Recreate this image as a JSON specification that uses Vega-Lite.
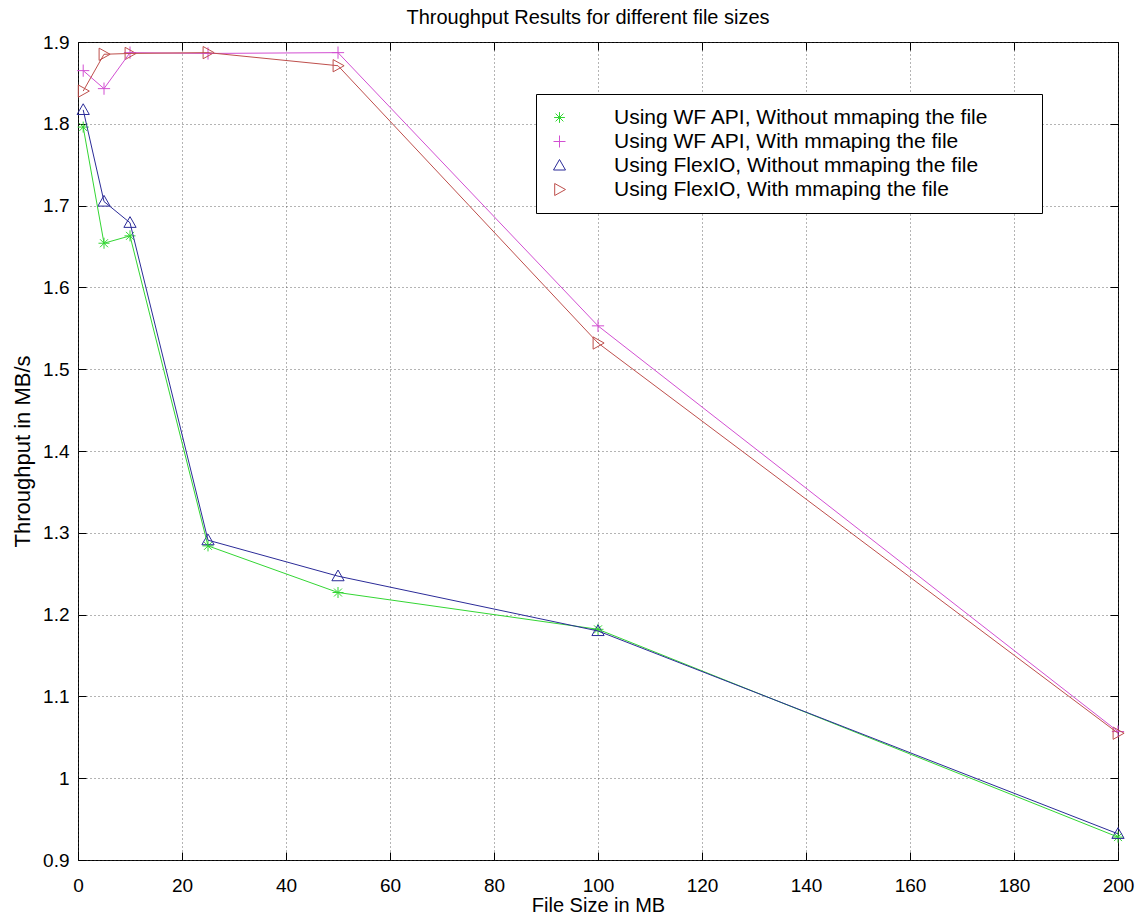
{
  "$schema": "https://vega.github.io/schema/vega-lite/v6.json",
  "width": 1040,
  "height": 818,
  "autosize": {"type": "none"},
  "padding": {"left": 78, "top": 42, "right": 20, "bottom": 61},
  "background": "white",
  "title": {
    "text": "Throughput Results for different file sizes",
    "fontSize": 20,
    "fontWeight": "normal",
    "font": "Liberation Sans",
    "color": "black",
    "anchor": "middle",
    "dx": -10,
    "offset": 5
  },
  "data": {
    "values": [
      {"size": 1, "throughput": 1.796, "series": "Using WF API, Without mmaping the file"},
      {"size": 5, "throughput": 1.654, "series": "Using WF API, Without mmaping the file"},
      {"size": 10, "throughput": 1.663, "series": "Using WF API, Without mmaping the file"},
      {"size": 25, "throughput": 1.284, "series": "Using WF API, Without mmaping the file"},
      {"size": 50, "throughput": 1.227, "series": "Using WF API, Without mmaping the file"},
      {"size": 100, "throughput": 1.182, "series": "Using WF API, Without mmaping the file"},
      {"size": 200, "throughput": 0.928, "series": "Using WF API, Without mmaping the file"},

      {"size": 1, "throughput": 1.865, "series": "Using WF API, With mmaping the file"},
      {"size": 5, "throughput": 1.843, "series": "Using WF API, With mmaping the file"},
      {"size": 10, "throughput": 1.887, "series": "Using WF API, With mmaping the file"},
      {"size": 25, "throughput": 1.886, "series": "Using WF API, With mmaping the file"},
      {"size": 50, "throughput": 1.887, "series": "Using WF API, With mmaping the file"},
      {"size": 100, "throughput": 1.553, "series": "Using WF API, With mmaping the file"},
      {"size": 200, "throughput": 1.057, "series": "Using WF API, With mmaping the file"},

      {"size": 1, "throughput": 1.817, "series": "Using FlexIO, Without mmaping the file"},
      {"size": 5, "throughput": 1.705, "series": "Using FlexIO, Without mmaping the file"},
      {"size": 10, "throughput": 1.679, "series": "Using FlexIO, Without mmaping the file"},
      {"size": 25, "throughput": 1.291, "series": "Using FlexIO, Without mmaping the file"},
      {"size": 50, "throughput": 1.247, "series": "Using FlexIO, Without mmaping the file"},
      {"size": 100, "throughput": 1.180, "series": "Using FlexIO, Without mmaping the file"},
      {"size": 200, "throughput": 0.932, "series": "Using FlexIO, Without mmaping the file"},

      {"size": 1, "throughput": 1.840, "series": "Using FlexIO, With mmaping the file"},
      {"size": 5, "throughput": 1.885, "series": "Using FlexIO, With mmaping the file"},
      {"size": 10, "throughput": 1.886, "series": "Using FlexIO, With mmaping the file"},
      {"size": 25, "throughput": 1.887, "series": "Using FlexIO, With mmaping the file"},
      {"size": 50, "throughput": 1.871, "series": "Using FlexIO, With mmaping the file"},
      {"size": 100, "throughput": 1.532, "series": "Using FlexIO, With mmaping the file"},
      {"size": 200, "throughput": 1.055, "series": "Using FlexIO, With mmaping the file"}
    ]
  },
  "layer": [
    {
      "mark": {"type": "point", "filled": false, "strokeWidth": 1, "opacity": 1, "size": 150},
      "encoding": {
        "x": {
          "field": "size",
          "type": "quantitative",
          "scale": {"domain": [0, 200], "nice": false, "zero": false},
          "axis": {
            "orient": "bottom",
            "title": "File Size in MB",
            "values": [0, 20, 40, 60, 80, 100, 120, 140, 160, 180, 200],
            "grid": true,
            "domain": false,
            "labelFlush": false,
            "tickSize": -8,
            "labelPadding": 24,
            "titlePadding": 0
          }
        },
        "y": {
          "field": "throughput",
          "type": "quantitative",
          "scale": {"domain": [0.9, 1.9], "nice": false, "zero": false},
          "axis": {
            "orient": "left",
            "title": "Throughput in MB/s",
            "titleFontSize": 22,
            "values": [0.9, 1.0, 1.1, 1.2, 1.3, 1.4, 1.5, 1.6, 1.7, 1.8, 1.9],
            "format": "~g",
            "grid": true,
            "domain": false,
            "labelFlush": false,
            "tickSize": -8,
            "labelPadding": 17,
            "titlePadding": 8
          }
        },
        "color": {
          "field": "series",
          "type": "nominal",
          "sort": null,
          "scale": {
            "domain": [
              "Using WF API, Without mmaping the file",
              "Using WF API, With mmaping the file",
              "Using FlexIO, Without mmaping the file",
              "Using FlexIO, With mmaping the file"
            ],
            "range": ["#33d633", "#d24fd2", "#2b2b98", "#be4f4c"]
          },
          "legend": {
            "title": "\u00a0",
            "titleOrient": "right",
            "titlePadding": 40,
            "titleFontSize": 8,
            "encode": {
              "symbols": {
                "shape": {
                  "value": {
                    "expr": "datum.value === 'Using WF API, Without mmaping the file' ? 'M-1,0L7,0M2.1,0L3.9,0M3,-0.9L3,0.9M2.35,-0.65L3.65,0.65M2.35,0.65L3.65,-0.65' : datum.value === 'Using WF API, With mmaping the file' ? 'M-1,0L7,0M3,-1L3,1' : datum.value === 'Using FlexIO, Without mmaping the file' ? 'M-1,0L7,0M3,-1L4,0.75L2,0.75Z' : 'M-1,0L7,0M2.2,-1L4,0L2.2,1Z'"
                  }
                }
              }
            }
          }
        },
        "shape": {
          "field": "series",
          "type": "nominal",
          "sort": null,
          "scale": {
            "domain": [
              "Using WF API, Without mmaping the file",
              "Using WF API, With mmaping the file",
              "Using FlexIO, Without mmaping the file",
              "Using FlexIO, With mmaping the file"
            ],
            "range": [
              "M-0.9,0L0.9,0M0,-0.9L0,0.9M-0.65,-0.65L0.65,0.65M-0.65,0.65L0.65,-0.65",
              "M-1,0L1,0M0,-1L0,1",
              "M0,-1L1,0.75L-1,0.75Z",
              "M-0.8,-1L1,0L-0.8,1Z"
            ]
          },
          "legend": {
            "title": "\u00a0",
            "titleOrient": "right",
            "titlePadding": 40,
            "titleFontSize": 8
          }
        }
      }
    },
    {
      "mark": {"type": "line", "strokeWidth": 1},
      "encoding": {
        "x": {
          "field": "size",
          "type": "quantitative",
          "axis": {
            "orient": "top",
            "title": null,
            "labels": false,
            "values": [0, 20, 40, 60, 80, 100, 120, 140, 160, 180, 200],
            "grid": false,
            "domain": false,
            "tickSize": -8
          }
        },
        "y": {
          "field": "throughput",
          "type": "quantitative",
          "axis": {
            "orient": "right",
            "title": null,
            "labels": false,
            "values": [0.9, 1.0, 1.1, 1.2, 1.3, 1.4, 1.5, 1.6, 1.7, 1.8, 1.9],
            "grid": false,
            "domain": false,
            "tickSize": -8
          }
        },
        "color": {
          "field": "series",
          "type": "nominal",
          "sort": null
        }
      }
    }
  ],
  "resolve": {"axis": {"x": "independent", "y": "independent"}},
  "config": {
    "font": "Liberation Sans",
    "view": {"stroke": "black", "strokeWidth": 1},
    "axis": {
      "labelFont": "Liberation Sans",
      "labelFontSize": 19,
      "labelColor": "black",
      "titleFont": "Liberation Sans",
      "titleFontSize": 20,
      "titleFontWeight": "normal",
      "titleColor": "black",
      "tickColor": "black",
      "tickWidth": 1,
      "gridColor": "#444444",
      "gridOpacity": 0.8,
      "gridDash": [1, 3],
      "gridWidth": 1
    },
    "legend": {
      "orient": "none",
      "legendX": 458,
      "legendY": 52,
      "labelFont": "Liberation Sans",
      "labelFontSize": 21,
      "labelColor": "black",
      "labelLimit": 600,
      "labelOffset": 44,
      "symbolSize": 144,
      "symbolStrokeWidth": 1,
      "padding": 13,
      "rowPadding": 2,
      "strokeColor": "black",
      "fillColor": "white",
      "cornerRadius": 0
    }
  }
}
